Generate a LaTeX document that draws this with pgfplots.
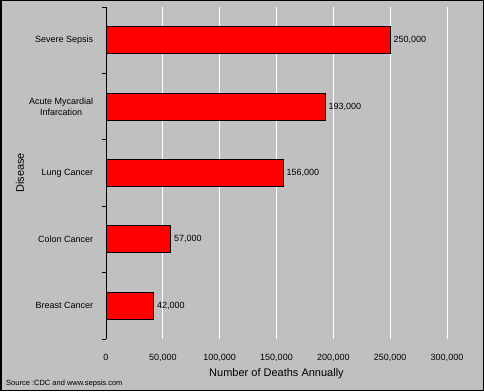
\documentclass[border=0pt]{standalone}
\usepackage{pgfplots}
\pgfplotsset{compat=1.18}
\usepackage{fontspec}
\setmainfont{Liberation Sans}
\definecolor{bg}{HTML}{C0C0C0}
\definecolor{barred}{HTML}{FF0000}
\begin{document}
\begin{tikzpicture}
\useasboundingbox (0,0) rectangle (484pt,391pt);
\fill[bg] (0,0) rectangle (484pt,391pt);
\begin{axis}[
  at={(106pt,52pt)}, anchor=south west,
  scale only axis, width=341pt, height=332pt,
  xbar, bar width=27pt,
  xmin=0, xmax=300000, ymin=-0.5, ymax=4.5,
  axis line style={draw=none},
  ytick pos=left, xtick pos=bottom,
  xtick={0,50000,...,300000},
  scaled x ticks=false,
  xticklabel style={font=\fontsize{9}{10}\selectfont, yshift=-7pt},
  /pgf/number format/.cd, fixed, 1000 sep={,}, assume math mode=true,
  /pgfplots/.cd,
  major x tick style={draw=none},
  xmajorgrids, grid style={white, line width=1pt},
  ytick={0,1,2,3,4},
  yticklabels={Breast Cancer, Colon Cancer, Lung Cancer, {Acute Mycardial\\Infarcation}, Severe Sepsis},
  yticklabel style={font=\fontsize{9}{11}\selectfont, align=center, xshift=-5pt},
  major y tick style={draw=none},
  minor ytick={-0.5,0.5,...,4.5},
  minor tick length=4pt,
  tick align=outside,
  minor y tick style={black, line width=1pt},
  xlabel={Number of Deaths Annually},
  xlabel style={font=\fontsize{11}{12}\selectfont, at={([yshift=-37pt]axis description cs:0.5,0)}, anchor=base},
  ylabel={Disease},
  ylabel style={font=\fontsize{11}{12}\selectfont, at={([xshift=-86pt]axis description cs:0,0.5)}, anchor=center, rotate=0},
  nodes near coords,
  nodes near coords style={font=\fontsize{9}{10}\selectfont, anchor=west, xshift=-0.5pt, /pgf/number format/.cd, fixed, 1000 sep={,}, assume math mode=true},
  point meta=x,
  clip=false,
]
\addplot[fill=barred, draw=black, line width=1pt] coordinates {
  (42000,0) (57000,1) (156000,2) (193000,3) (250000,4)
};
\draw[black, line width=1pt] (rel axis cs:0,0) -- (rel axis cs:0,1);
\end{axis}
\node[anchor=base west, font=\fontsize{7.5}{8}\selectfont, inner sep=0pt] at (6pt,6pt) {Source :CDC and www.sepsis.com};
\draw[black, line width=1.5pt] (0.75pt,0.75pt) rectangle (483.25pt,390.25pt);
\end{tikzpicture}
\end{document}
